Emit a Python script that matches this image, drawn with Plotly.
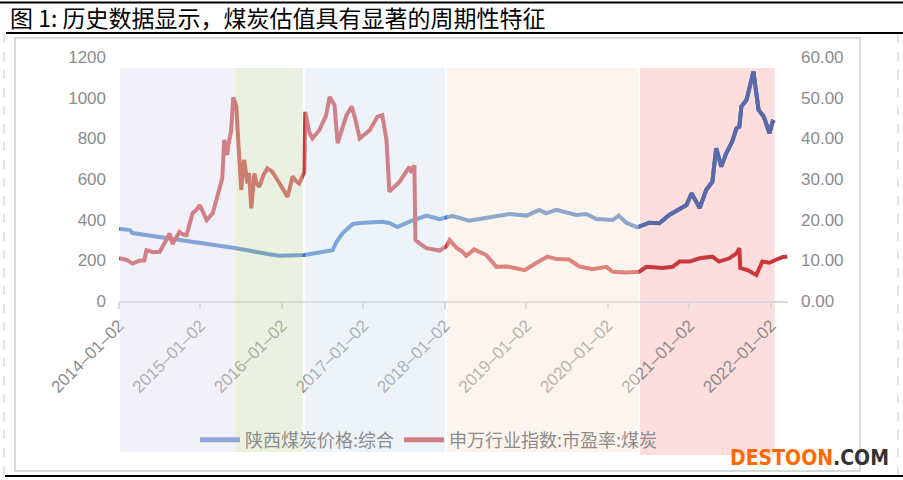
import plotly.graph_objects as go

# ---------------- data ----------------
title_text = "图 1: 历史数据显示，煤炭估值具有显著的周期性特征"
name_price = "陕西煤炭价格:综合"
name_pe = "申万行业指数:市盈率:煤炭"

price_dates = ["2014-01-02", "2014-02-20", "2014-03-03", "2014-07-01", "2015-01-02",
               "2015-06-05", "2015-10-30", "2015-12-23", "2016-04-12", "2016-07-20",
               "2016-08-16", "2016-09-04", "2016-10-01", "2016-11-15", "2016-12-16",
               "2017-03-27", "2017-04-28", "2017-06-03", "2017-07-27", "2017-10-11",
               "2017-12-09", "2018-01-10", "2018-02-06", "2018-04-21", "2018-07-20",
               "2018-10-18", "2019-01-03", "2019-03-01", "2019-04-01", "2019-05-15",
               "2019-08-14", "2019-09-28", "2019-11-12", "2020-01-24", "2020-02-20",
               "2020-03-25", "2020-05-13", "2020-05-28", "2020-07-06", "2020-08-20",
               "2020-10-04", "2020-12-20", "2021-01-12", "2021-02-17", "2021-03-18",
               "2021-04-15", "2021-05-02", "2021-05-25", "2021-06-16", "2021-07-13",
               "2021-08-01", "2021-08-14", "2021-08-23", "2021-09-15", "2021-10-16",
               "2021-11-08", "2021-12-01", "2021-12-27", "2022-01-10", "2022-01-19"]
price_values = [355, 349, 334, 316, 285,
                261, 231, 223, 226, 241,
                250, 292, 334, 379, 384,
                390, 384, 364, 390, 420,
                402, 412, 418, 395, 412,
                428, 420, 448, 431, 448,
                423, 428, 403, 398, 420,
                385, 362, 369, 385, 382,
                423, 472, 530, 457, 546,
                587, 751, 661, 726, 784,
                849, 857, 956, 989, 1128,
                940, 907, 825, 882, 877]

pe_dates = ["2014-01-02", "2014-02-06", "2014-03-03", "2014-03-20", "2014-04-04", "2014-04-26",
            "2014-05-05", "2014-06-05", "2014-07-03", "2014-07-25", "2014-08-17", "2014-08-30",
            "2014-09-30", "2014-10-15", "2014-11-01", "2014-11-28", "2014-12-15", "2014-12-30",
            "2015-01-30", "2015-02-26", "2015-03-18", "2015-04-10", "2015-04-19", "2015-05-02",
            "2015-05-08", "2015-05-20", "2015-05-29", "2015-06-12", "2015-06-22", "2015-07-04",
            "2015-07-17", "2015-08-01", "2015-08-08", "2015-08-18", "2015-09-01", "2015-09-10",
            "2015-09-23", "2015-10-12", "2015-10-29", "2015-11-20", "2015-12-05", "2015-12-22",
            "2016-01-12", "2016-01-28", "2016-02-19", "2016-03-05", "2016-03-20", "2016-04-12",
            "2016-04-16", "2016-05-04", "2016-05-18", "2016-06-18", "2016-07-02", "2016-07-18",
            "2016-08-03", "2016-08-25", "2016-09-08", "2016-09-25", "2016-10-18", "2016-11-10",
            "2016-11-25", "2016-12-16", "2017-01-30", "2017-02-15", "2017-03-05", "2017-03-27",
            "2017-04-15", "2017-04-28", "2017-06-12", "2017-07-27", "2017-08-05", "2017-08-18",
            "2017-08-23", "2017-09-15", "2017-10-11", "2017-12-09", "2018-01-10", "2018-01-23",
            "2018-02-24", "2018-03-20", "2018-04-08", "2018-05-13", "2018-06-10", "2018-07-06",
            "2018-08-21", "2018-10-05", "2018-11-10", "2018-12-25", "2019-02-17", "2019-04-06",
            "2019-05-20", "2019-07-13", "2019-08-27", "2019-10-25", "2019-12-27", "2020-01-24",
            "2020-03-25", "2020-05-22", "2020-06-23", "2020-09-04", "2020-10-18", "2020-11-19",
            "2021-01-03", "2021-02-17", "2021-04-15", "2021-05-15", "2021-06-30", "2021-08-01",
            "2021-08-14", "2021-08-18", "2021-09-19", "2021-10-29", "2021-11-25", "2021-12-27",
            "2022-01-28", "2022-02-24", "2022-03-17"]
pe_values = [10.5, 10.1, 9.2, 9.6, 9.9, 10.0,
             12.5, 12.0, 12.1, 14.2, 16.6, 14.0,
             17.0, 16.4, 16.2, 21.6, 22.4, 23.6,
             19.9, 21.6, 25.6, 30.2, 39.6, 35.9,
             38.5, 42.0, 50.1, 47.8, 38.0, 27.3,
             34.7, 28.9, 31.5, 22.8, 31.4, 29.0,
             28.1, 31.0, 32.6, 31.8, 30.5, 28.9,
             27.0, 25.6, 30.6, 29.5, 28.9, 31.8,
             46.5, 41.5, 40.0, 42.0, 43.7, 45.5,
             50.2, 48.2, 38.8, 41.5, 45.7, 47.8,
             45.0, 40.0, 42.0, 43.5, 45.3, 45.7,
             39.6, 26.9, 29.3, 33.0, 31.5, 33.4,
             15.0, 14.0, 13.0, 12.4, 13.5, 15.0,
             13.0, 12.2, 11.1, 12.7, 12.0, 11.3,
             8.4, 8.5, 8.1, 7.6, 9.4, 10.9,
             10.3, 10.2, 8.5, 7.8, 8.4, 7.2,
             7.0, 7.2, 8.4, 8.1, 8.4, 9.7,
             9.7, 10.5, 10.9, 9.7, 10.5, 11.7,
             13.0, 8.1, 7.6, 6.4, 9.7, 9.4,
             10.2, 10.8, 10.9]

tick_dates = ["2014-01-02", "2015-01-02", "2016-01-02", "2017-01-02", "2018-01-02",
              "2019-01-02", "2020-01-02", "2021-01-02", "2022-01-02"]
tick_text = [d.replace("-", "–") for d in tick_dates]

period_starts = ["2014-01-06", "2015-06-08", "2016-04-16", "2018-01-12", "2020-05-26"]
period_ends = ["2015-06-08", "2016-04-05", "2018-01-02", "2020-05-19", "2022-01-19"]

# ---------------- styling ----------------
W, H = 903, 480
L, R, T, B = 119, 115, 57, 179
PW, PH = W - L - R, H - T - B


def px(xp):
    return (xp - L) / PW


def py(yp):
    return (H - B - yp) / PH


blue_true = "rgb(60,120,200)"
red_true = "rgb(200,56,60)"
blue_late = "rgb(90,106,168)"
overlay_colors = ["rgb(224,222,236)", "rgb(208,222,183)", "rgb(215,227,239)", "rgb(250,229,215)"]
last_fill = "rgb(253,222,220)"
grey_txt = "#8C8C8C"
font_lat = "Liberation Sans, Arial, sans-serif"
font_cjk = "Noto Sans CJK SC"

fig = go.Figure()
fig.add_trace(go.Scatter(x=price_dates, y=price_values, mode="lines", name=name_price,
                         line=dict(color=blue_true, width=4), showlegend=False, yaxis="y"))
fig.add_trace(go.Scatter(x=pe_dates, y=pe_values, mode="lines", name=name_pe,
                         line=dict(color=red_true, width=4), showlegend=False, yaxis="y2"))
# last period portion of the price line
k = next(i for i, d in enumerate(price_dates) if d >= period_starts[-1])
fig.add_trace(go.Scatter(x=price_dates[k - 1:], y=price_values[k - 1:], mode="lines",
                         line=dict(color=blue_late, width=4), showlegend=False, yaxis="y"))
# legend entries
fig.add_trace(go.Scatter(x=[None], y=[None], mode="lines", name=name_price,
                         line=dict(color="rgb(140,168,214)", width=5)))
fig.add_trace(go.Scatter(x=[None], y=[None], mode="lines", name=name_pe,
                         line=dict(color="rgb(206,128,134)", width=5), yaxis="y2"))

shapes = []
y0p, y1p = py(452), py(68)
for i in range(4):
    shapes.append(dict(type="rect", xref="x", yref="paper", x0=period_starts[i], x1=period_ends[i],
                       y0=y0p, y1=y1p, fillcolor=overlay_colors[i], opacity=0.43,
                       line=dict(width=0), layer="above"))
shapes.append(dict(type="rect", xref="x", yref="paper", x0=period_starts[4], x1=period_ends[4],
                   y0=py(455), y1=y1p, fillcolor=last_fill, line=dict(width=0), layer="below"))

# frame lines
shapes += [
    dict(type="line", xref="paper", yref="paper", x0=px(0), x1=px(903), y0=py(2.5), y1=py(2.5),
         line=dict(color="black", width=2)),
    dict(type="line", xref="paper", yref="paper", x0=px(6), x1=px(903), y0=py(33), y1=py(33),
         line=dict(color="black", width=2)),
    dict(type="line", xref="paper", yref="paper", x0=px(5), x1=px(903), y0=py(476), y1=py(476),
         line=dict(color="black", width=2)),
    dict(type="rect", xref="paper", yref="paper", x0=px(15), x1=px(860), y0=py(471), y1=py(38),
         line=dict(color="#D9D9D9", width=2), fillcolor="rgba(0,0,0,0)"),
    dict(type="line", xref="paper", yref="paper", x0=px(4), x1=px(4), y0=py(34), y1=py(475),
         line=dict(color="#C8C8C8", width=1, dash="dash")),
    dict(type="line", xref="paper", yref="paper", x0=px(898), x1=px(898), y0=py(34), y1=py(475),
         line=dict(color="#C8C8C8", width=1, dash="dash")),
]

annotations = [
    dict(text=title_text, xref="paper", yref="paper", x=px(8), y=py(17), xanchor="left",
         yanchor="middle", showarrow=False, font=dict(family=font_cjk, size=23, color="black")),
    dict(text="<b><span style='color:#FF6A00'>DESTOON</span><span style='color:#333333'>.COM</span></b>",
         xref="paper", yref="paper", x=px(891), y=py(458), xanchor="right", yanchor="middle",
         showarrow=False, font=dict(family="DejaVu Sans Condensed, Liberation Sans", size=21)),
]

fig.update_layout(
    width=W, height=H, autosize=False,
    margin=dict(l=L, r=R, t=T, b=B, pad=0),
    paper_bgcolor="white", plot_bgcolor="white",
    shapes=shapes, annotations=annotations,
    font=dict(family=font_lat, color=grey_txt),
    xaxis=dict(type="date", range=["2014-01-02", "2022-03-20"], tickvals=tick_dates,
               ticktext=tick_text, tickangle=-45, showgrid=False, zeroline=False,
               showline=True, linecolor="#D9D9D9", linewidth=2, ticks="outside",
               ticklen=6, tickwidth=2, tickcolor="#D9D9D9",
               tickfont=dict(family=font_lat, size=17, color=grey_txt)),
    yaxis=dict(range=[0, 1200], tickvals=[0, 200, 400, 600, 800, 1000, 1200], showgrid=False,
               zeroline=False, showline=False, ticks="", ticklabelstandoff=12,
               tickfont=dict(family=font_lat, size=17, color=grey_txt)),
    yaxis2=dict(range=[0, 60], tickvals=[0, 10, 20, 30, 40, 50, 60], tickformat=".2f",
                overlaying="y", side="right", showgrid=False, zeroline=False, showline=False,
                ticks="", ticklabelstandoff=12,
                tickfont=dict(family=font_lat, size=17, color=grey_txt)),
    legend=dict(orientation="h", x=px(195), xanchor="left", y=py(440), yanchor="middle",
                bgcolor="rgba(0,0,0,0)", font=dict(family=font_cjk, size=18, color=grey_txt),
                itemwidth=40, tracegroupgap=0),
)

fig.write_html("out.html", config={"displayModeBar": False},
               post_script="document.body.style.margin='0';")
